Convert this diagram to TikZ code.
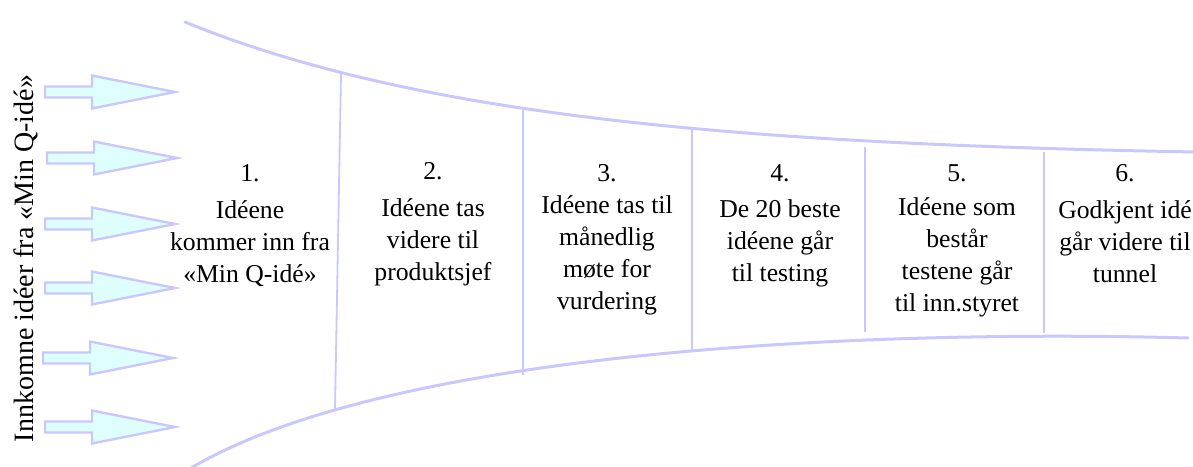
\documentclass[tikz,border=0pt]{standalone}
\usepackage{fontspec}
\setmainfont{Liberation Serif}
\definecolor{funnelline}{HTML}{C8C8FF}
\definecolor{arrowfill}{HTML}{DFFFFF}
\begin{document}
\begin{tikzpicture}[x=1pt,y=-1pt,
  funnel/.style={draw=funnelline, line width=3pt, line cap=round},
  divider/.style={draw=funnelline, line width=1.8pt},
  ideaarrow/.style={draw=funnelline, fill=arrowfill, line width=2.4pt, line join=miter},
  stage/.style={anchor=north, inner sep=0pt, align=center,
    font=\fontsize{25.7}{32}\selectfont},
  sidetext/.style={anchor=base, inner sep=0pt, rotate=90,
    font=\fontsize{28}{34}\selectfont}]
\useasboundingbox (0,0) rectangle (1193,466);

% incoming idea arrows
\foreach \yc/\dx in {92/0,158/2,224/0,288/0,358/-2,427/0}{
  \draw[ideaarrow] ({45+\dx},{\yc-5.5}) -- ({92+\dx},{\yc-5.5}) -- ({92+\dx},{\yc-16.5})
    -- ({175+\dx},\yc) -- ({92+\dx},{\yc+16.5}) -- ({92+\dx},{\yc+5.5})
    -- ({45+\dx},{\yc+5.5}) -- cycle;
}

% funnel outline
\draw[funnel] (185,22) .. controls (420,118) and (750,144) .. (1196,152);
\draw[funnel] (191,468) .. controls (400,345) and (900,330) .. (1188,338);

% stage dividers
\draw[divider] (341,74) -- (335,409);
\draw[divider] (523,110) -- (523,375);
\draw[divider] (692,129) -- (692,350);
\draw[divider] (865,147) -- (865,332);
\draw[divider] (1044,152) -- (1044,333);

% side label
\node[sidetext] (incoming) at (33,258.5) {Innkomne idéer fra «Min Q-idé»};

% stage texts
\node[stage] (s1) at (250,164.6) {1.\\[4.5pt]Idéene\\kommer inn fra\\«Min Q-idé»};
\node[stage] (s2) at (433,162.6) {2.\\[4.7pt]Idéene tas\\videre til\\produktsjef};
\node[stage] (s3) at (607,164.0) {3.\\Idéene tas til\\månedlig\\møte for\\vurdering};
\node[stage] (s4) at (780,164.6) {4.\\[4pt]De 20 beste\\idéene går\\til testing};
\node[stage] (s5) at (957,164.6) {5.\\[2pt]Idéene som\\består\\testene går\\til inn.styret};
\node[stage] (s6) at (1125,164.6) {6.\\[5pt]Godkjent idé\\går videre til\\tunnel};
\end{tikzpicture}
\end{document}
